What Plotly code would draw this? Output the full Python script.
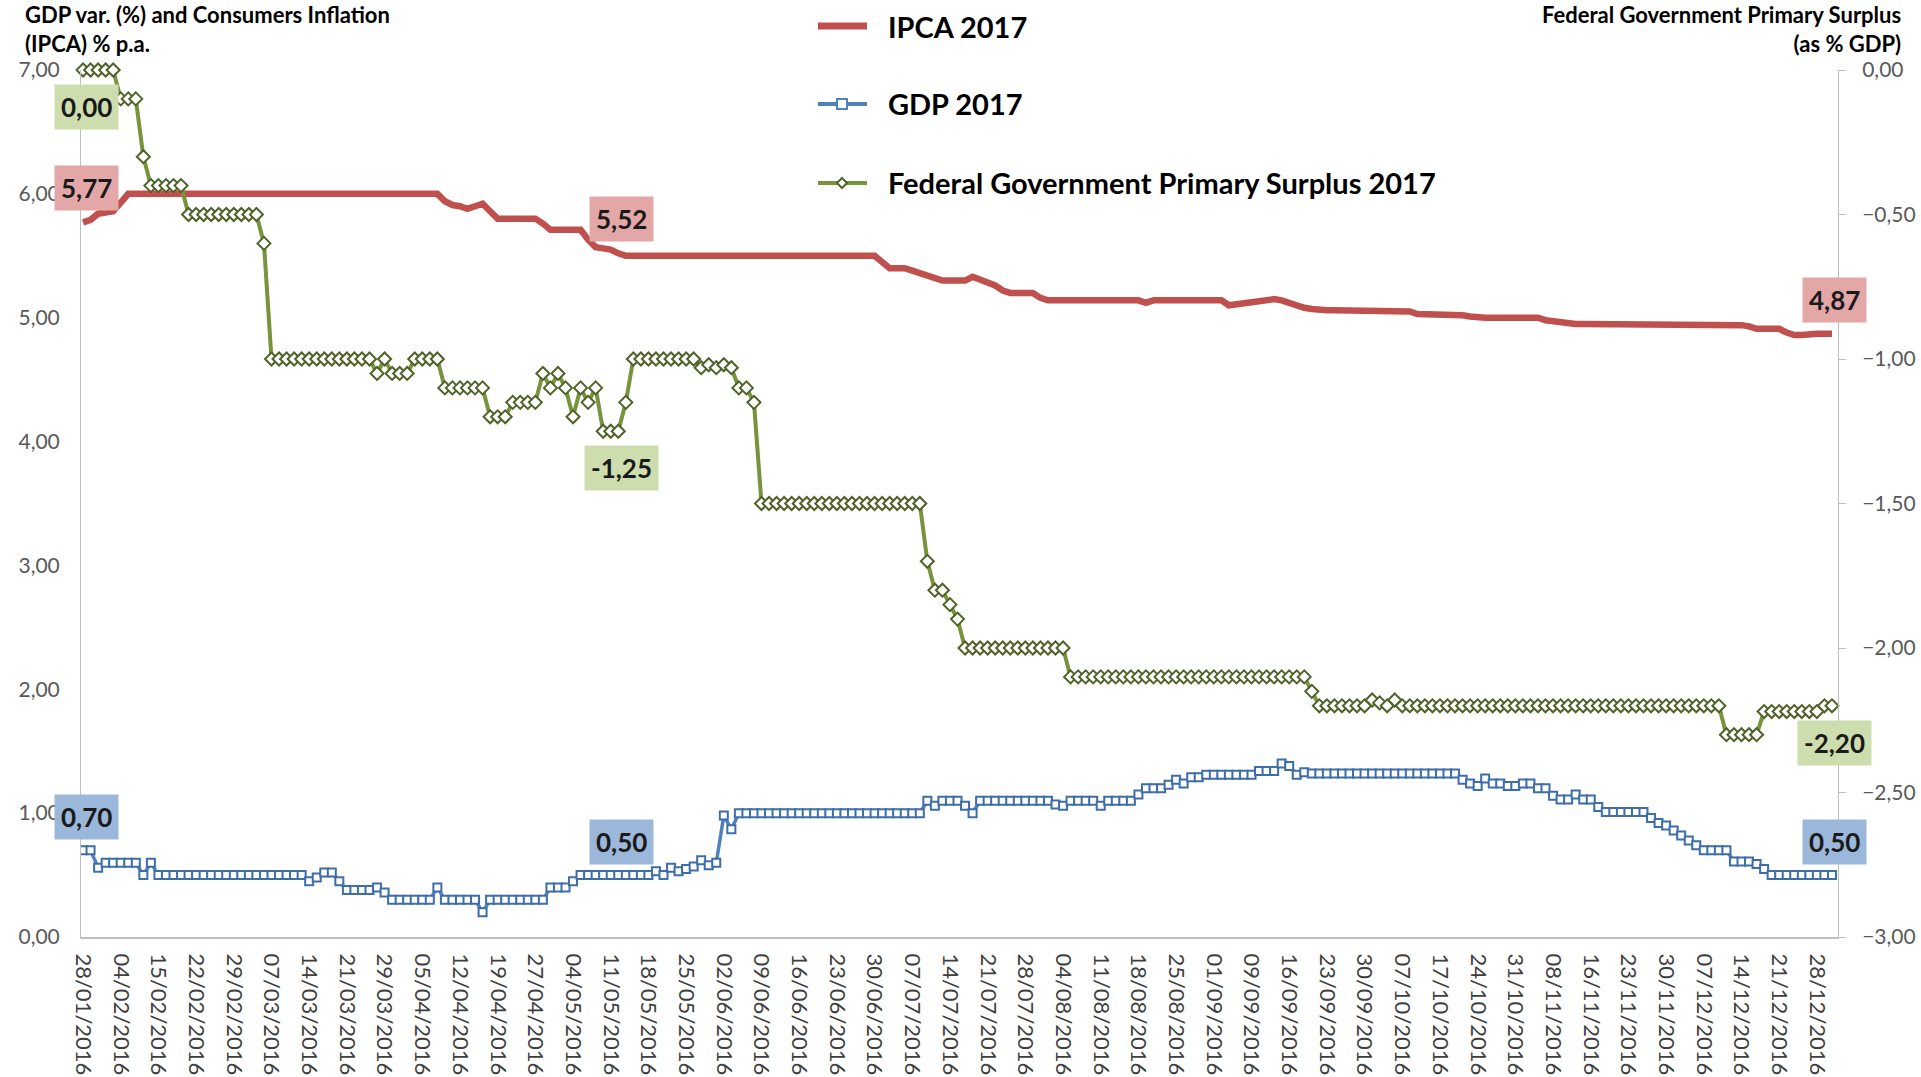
import plotly.graph_objects as go
import pandas as pd

# ---------------- data ----------------
holidays = ["2016-02-08", "2016-02-09", "2016-03-25", "2016-04-21", "2016-05-26",
            "2016-09-07", "2016-10-12", "2016-11-02", "2016-11-15"]
dates = [d.strftime("%d/%m/%Y") for d in pd.bdate_range("2016-01-28", "2016-12-30")
         if d.strftime("%Y-%m-%d") not in holidays]

tick_labels = [
    "28/01/2016", "04/02/2016", "15/02/2016", "22/02/2016", "29/02/2016", "07/03/2016",
    "14/03/2016", "21/03/2016", "29/03/2016", "05/04/2016", "12/04/2016", "19/04/2016",
    "27/04/2016", "04/05/2016", "11/05/2016", "18/05/2016", "25/05/2016", "02/06/2016",
    "09/06/2016", "16/06/2016", "23/06/2016", "30/06/2016", "07/07/2016", "14/07/2016",
    "21/07/2016", "28/07/2016", "04/08/2016", "11/08/2016", "18/08/2016", "25/08/2016",
    "01/09/2016", "09/09/2016", "16/09/2016", "23/09/2016", "30/09/2016", "07/10/2016",
    "17/10/2016", "24/10/2016", "31/10/2016", "08/11/2016", "16/11/2016", "23/11/2016",
    "30/11/2016", "07/12/2016", "14/12/2016", "21/12/2016", "28/12/2016",
]

ipca_2017 = [
    5.77, 5.79, 5.84, 5.85, 5.86,
    5.93, 6.00, 6.00, 6.00, 6.00,
    6.00, 6.00, 6.00, 6.00, 6.00,
    6.00, 6.00, 6.00, 6.00, 6.00,
    6.00, 6.00, 6.00, 6.00, 6.00,
    6.00, 6.00, 6.00, 6.00, 6.00,
    6.00, 6.00, 6.00, 6.00, 6.00,
    6.00, 6.00, 6.00, 6.00, 6.00,
    6.00, 6.00, 6.00, 6.00, 6.00,
    6.00, 6.00, 6.00, 5.94, 5.91,
    5.90, 5.88, 5.90, 5.92, 5.86,
    5.80, 5.80, 5.80, 5.80, 5.80,
    5.80, 5.76, 5.71, 5.71, 5.71,
    5.71, 5.71, 5.63, 5.57, 5.56,
    5.55, 5.52, 5.50, 5.50, 5.50,
    5.50, 5.50, 5.50, 5.50, 5.50,
    5.50, 5.50, 5.50, 5.50, 5.50,
    5.50, 5.50, 5.50, 5.50, 5.50,
    5.50, 5.50, 5.50, 5.50, 5.50,
    5.50, 5.50, 5.50, 5.50, 5.50,
    5.50, 5.50, 5.50, 5.50, 5.50,
    5.50, 5.45, 5.40, 5.40, 5.40,
    5.38, 5.36, 5.35, 5.32, 5.30,
    5.30, 5.30, 5.30, 5.33, 5.31,
    5.29, 5.26, 5.22, 5.20, 5.20,
    5.20, 5.20, 5.16, 5.14, 5.14,
    5.14, 5.14, 5.14, 5.14, 5.14,
    5.14, 5.14, 5.14, 5.14, 5.14,
    5.14, 5.12, 5.14, 5.14, 5.14,
    5.14, 5.14, 5.14, 5.14, 5.14,
    5.14, 5.14, 5.10, 5.11, 5.12,
    5.13, 5.14, 5.15, 5.15, 5.14,
    5.12, 5.09, 5.08, 5.07, 5.06,
    5.06, 5.06, 5.06, 5.06, 5.06,
    5.06, 5.05, 5.05, 5.05, 5.05,
    5.05, 5.05, 5.03, 5.03, 5.03,
    5.03, 5.03, 5.03, 5.02, 5.01,
    5.00, 5.00, 5.00, 5.00, 5.00,
    5.00, 5.00, 5.00, 5.00, 4.98,
    4.97, 4.96, 4.95, 4.95, 4.95,
    4.95, 4.95, 4.95, 4.94, 4.94,
    4.94, 4.94, 4.94, 4.94, 4.94,
    4.94, 4.94, 4.94, 4.94, 4.94,
    4.94, 4.94, 4.94, 4.94, 4.94,
    4.94, 4.93, 4.91, 4.91, 4.91,
    4.91, 4.88, 4.86, 4.86, 4.87,
    4.87, 4.87, 4.87,
]

gdp_2017 = [
    0.70, 0.70, 0.56, 0.60, 0.60,
    0.60, 0.60, 0.60, 0.50, 0.60,
    0.50, 0.50, 0.50, 0.50, 0.50,
    0.50, 0.50, 0.50, 0.50, 0.50,
    0.50, 0.50, 0.50, 0.50, 0.50,
    0.50, 0.50, 0.50, 0.50, 0.50,
    0.45, 0.48, 0.52, 0.52, 0.45,
    0.38, 0.38, 0.38, 0.38, 0.40,
    0.36, 0.30, 0.30, 0.30, 0.30,
    0.30, 0.30, 0.40, 0.30, 0.30,
    0.30, 0.30, 0.30, 0.20, 0.30,
    0.30, 0.30, 0.30, 0.30, 0.30,
    0.30, 0.30, 0.40, 0.40, 0.40,
    0.45, 0.50, 0.50, 0.50, 0.50,
    0.50, 0.50, 0.50, 0.50, 0.50,
    0.50, 0.53, 0.50, 0.56, 0.53,
    0.55, 0.57, 0.62, 0.58, 0.60,
    0.98, 0.87, 1.00, 1.00, 1.00,
    1.00, 1.00, 1.00, 1.00, 1.00,
    1.00, 1.00, 1.00, 1.00, 1.00,
    1.00, 1.00, 1.00, 1.00, 1.00,
    1.00, 1.00, 1.00, 1.00, 1.00,
    1.00, 1.00, 1.10, 1.06, 1.10,
    1.10, 1.10, 1.06, 1.00, 1.10,
    1.10, 1.10, 1.10, 1.10, 1.10,
    1.10, 1.10, 1.10, 1.10, 1.07,
    1.06, 1.10, 1.10, 1.10, 1.10,
    1.06, 1.10, 1.10, 1.10, 1.10,
    1.15, 1.20, 1.20, 1.20, 1.23,
    1.27, 1.24, 1.29, 1.29, 1.31,
    1.31, 1.31, 1.31, 1.31, 1.31,
    1.31, 1.34, 1.34, 1.34, 1.40,
    1.38, 1.31, 1.33, 1.32, 1.32,
    1.32, 1.32, 1.32, 1.32, 1.32,
    1.32, 1.32, 1.32, 1.32, 1.32,
    1.32, 1.32, 1.32, 1.32, 1.32,
    1.32, 1.32, 1.32, 1.27, 1.24,
    1.22, 1.28, 1.24, 1.24, 1.22,
    1.22, 1.24, 1.24, 1.20, 1.20,
    1.14, 1.11, 1.11, 1.15, 1.11,
    1.11, 1.05, 1.01, 1.01, 1.01,
    1.01, 1.01, 1.01, 0.96, 0.92,
    0.90, 0.86, 0.82, 0.78, 0.74,
    0.70, 0.70, 0.70, 0.70, 0.61,
    0.61, 0.61, 0.59, 0.55, 0.50,
    0.50, 0.50, 0.50, 0.50, 0.50,
    0.50, 0.50, 0.50,
]

surplus_2017 = [
    0.00, 0.00, 0.00, 0.00, 0.00,
    -0.10, -0.10, -0.10, -0.30, -0.40,
    -0.40, -0.40, -0.40, -0.40, -0.50,
    -0.50, -0.50, -0.50, -0.50, -0.50,
    -0.50, -0.50, -0.50, -0.50, -0.60,
    -1.00, -1.00, -1.00, -1.00, -1.00,
    -1.00, -1.00, -1.00, -1.00, -1.00,
    -1.00, -1.00, -1.00, -1.00, -1.05,
    -1.00, -1.05, -1.05, -1.05, -1.00,
    -1.00, -1.00, -1.00, -1.10, -1.10,
    -1.10, -1.10, -1.10, -1.10, -1.20,
    -1.20, -1.20, -1.15, -1.15, -1.15,
    -1.15, -1.05, -1.10, -1.05, -1.10,
    -1.20, -1.10, -1.15, -1.10, -1.25,
    -1.25, -1.25, -1.15, -1.00, -1.00,
    -1.00, -1.00, -1.00, -1.00, -1.00,
    -1.00, -1.00, -1.03, -1.02, -1.03,
    -1.02, -1.03, -1.10, -1.10, -1.15,
    -1.50, -1.50, -1.50, -1.50, -1.50,
    -1.50, -1.50, -1.50, -1.50, -1.50,
    -1.50, -1.50, -1.50, -1.50, -1.50,
    -1.50, -1.50, -1.50, -1.50, -1.50,
    -1.50, -1.50, -1.70, -1.80, -1.80,
    -1.85, -1.90, -2.00, -2.00, -2.00,
    -2.00, -2.00, -2.00, -2.00, -2.00,
    -2.00, -2.00, -2.00, -2.00, -2.00,
    -2.00, -2.10, -2.10, -2.10, -2.10,
    -2.10, -2.10, -2.10, -2.10, -2.10,
    -2.10, -2.10, -2.10, -2.10, -2.10,
    -2.10, -2.10, -2.10, -2.10, -2.10,
    -2.10, -2.10, -2.10, -2.10, -2.10,
    -2.10, -2.10, -2.10, -2.10, -2.10,
    -2.10, -2.10, -2.10, -2.15, -2.20,
    -2.20, -2.20, -2.20, -2.20, -2.20,
    -2.20, -2.18, -2.19, -2.20, -2.18,
    -2.20, -2.20, -2.20, -2.20, -2.20,
    -2.20, -2.20, -2.20, -2.20, -2.20,
    -2.20, -2.20, -2.20, -2.20, -2.20,
    -2.20, -2.20, -2.20, -2.20, -2.20,
    -2.20, -2.20, -2.20, -2.20, -2.20,
    -2.20, -2.20, -2.20, -2.20, -2.20,
    -2.20, -2.20, -2.20, -2.20, -2.20,
    -2.20, -2.20, -2.20, -2.20, -2.20,
    -2.20, -2.20, -2.20, -2.30, -2.30,
    -2.30, -2.30, -2.30, -2.22, -2.22,
    -2.22, -2.22, -2.22, -2.22, -2.22,
    -2.22, -2.20, -2.20,
]

label_points = [0, 71, len(dates) - 1]   # data labels shown at these points

# ---------------- styling ----------------
W, H = 1921, 1077
ML, MR, MT, MB = 81, 83, 70, 140
PW, PH = W - ML - MR, H - MT - MB
RED, BLUE, GREEN, GREEN_D = "#C0504D", "#4F81BD", "#77933C", "#4F6228"
FONT = "Lato"


def px_x(px):
    return (px - ML) / PW


def px_y(py):
    return (H - MB - py) / PH


def fmt(v):
    return f"{v:.2f}".replace(".", ",")


fig = go.Figure()
fig.add_trace(go.Scatter(x=dates, y=ipca_2017, name="IPCA 2017", mode="lines",
                         line=dict(color=RED, width=6.5), yaxis="y"))
fig.add_trace(go.Scatter(x=dates, y=gdp_2017, name="GDP 2017", mode="lines+markers",
                         line=dict(color=BLUE, width=3.5),
                         marker=dict(symbol="square", size=8, color="white",
                                     line=dict(color="#3E6EA8", width=2)),
                         yaxis="y"))
fig.add_trace(go.Scatter(x=dates, y=surplus_2017, name="Federal Government Primary Surplus 2017",
                         mode="lines+markers", cliponaxis=False,
                         line=dict(color=GREEN, width=4),
                         marker=dict(symbol="diamond", size=10, color="white",
                                     line=dict(color=GREEN_D, width=2)),
                         yaxis="y2"))

annotations = []
lfont = dict(family=FONT, size=26, color="#1a1a1a", weight="bold")
for i in label_points:
    annotations.append(dict(x=dates[i], y=ipca_2017[i], xref="x", yref="y", text=fmt(ipca_2017[i]),
                            showarrow=False, yshift=34, xshift=3, bgcolor="#E3A7A7", borderpad=6,
                            font=lfont))
    annotations.append(dict(x=dates[i], y=gdp_2017[i], xref="x", yref="y", text=fmt(gdp_2017[i]),
                            showarrow=False, yshift=33, xshift=3, bgcolor="#9BB7DA", borderpad=6,
                            font=lfont))
    annotations.append(dict(x=dates[i], y=surplus_2017[i], xref="x", yref="y2", text=fmt(surplus_2017[i]),
                            showarrow=False, yshift=-37, xshift=3, bgcolor="#CEDDAE", borderpad=6,
                            font=lfont))

# axis titles (top-left and top-right), two lines each
tfont = dict(family=FONT, size=22, color="black", weight="bold")
annotations += [
    dict(x=px_x(24), y=px_y(0), xref="paper", yref="paper", xanchor="left", yanchor="top",
         align="left", text="GDP var. (%) and Consumers Inflation<br>(IPCA) % p.a.",
         showarrow=False, font=tfont, borderpad=0),
    dict(x=px_x(1902), y=px_y(0), xref="paper", yref="paper", xanchor="right", yanchor="top",
         align="right", text="Federal Government Primary Surplus<br>(as % GDP)",
         showarrow=False, font=tfont, borderpad=0),
]

# manual legend
shapes = []
legend_rows = [("IPCA 2017", RED, 7, None, 26),
               ("GDP 2017", BLUE, 4, "square", 104),
               ("Federal Government Primary Surplus 2017", GREEN, 4, "diamond", 183)]
for name, col, lw, sym, cy in legend_rows:
    shapes.append(dict(type="line", xref="paper", yref="paper", x0=px_x(818), x1=px_x(867),
                       y0=px_y(cy), y1=px_y(cy), line=dict(color=col, width=lw)))
    if sym == "square":
        shapes.append(dict(type="rect", xref="paper", yref="paper", x0=px_x(837), x1=px_x(847),
                           y0=px_y(cy - 5), y1=px_y(cy + 5), fillcolor="white",
                           line=dict(color=col, width=2)))
    elif sym == "diamond":
        d = 5
        path = (f"M {px_x(842 - d)} {px_y(cy)} L {px_x(842)} {px_y(cy - d)} "
                f"L {px_x(842 + d)} {px_y(cy)} L {px_x(842)} {px_y(cy + d)} Z")
        shapes.append(dict(type="path", xref="paper", yref="paper", path=path, fillcolor="white",
                           line=dict(color=GREEN_D, width=2)))
    annotations.append(dict(x=px_x(886), y=px_y(cy), xref="paper", yref="paper", xanchor="left",
                            yanchor="middle", text=name, showarrow=False,
                            font=dict(family=FONT, size=29, color="black", weight="bold")))

tickfont = dict(family=FONT, size=21, color="#595959")
fig.update_layout(
    width=W, height=H, margin=dict(l=ML, r=MR, t=MT, b=MB, autoexpand=False),
    paper_bgcolor="white", plot_bgcolor="white", showlegend=False, separators=",.",
    font=dict(family=FONT),
    xaxis=dict(type="category", range=[-0.27, len(dates) - 1 + 0.8], tickvals=tick_labels,
               ticktext=tick_labels, tickangle=90, showgrid=False, zeroline=False,
               showline=True, linecolor="#BFBFBF", linewidth=2, ticks="",
               tickfont=dict(family=FONT, size=22, color="#3F3F3F"), ticklabelstandoff=10),
    yaxis=dict(range=[0, 7], tickvals=[0, 1, 2, 3, 4, 5, 6, 7], tickformat=".2f",
               showgrid=False, zeroline=False, showline=True, linecolor="#BFBFBF", linewidth=1,
               ticks="", tickfont=tickfont, ticklabelstandoff=16),
    yaxis2=dict(range=[-3, 0], tickvals=[-3, -2.5, -2, -1.5, -1, -0.5, 0], tickformat=".2f",
                overlaying="y", side="right", showgrid=False, zeroline=False, showline=True,
                linecolor="#BFBFBF", linewidth=1, ticks="outside", ticklen=7, tickcolor="#BFBFBF",
                tickfont=tickfont, ticklabelstandoff=12),
    annotations=annotations, shapes=shapes,
)

fig.write_html("out.html")
